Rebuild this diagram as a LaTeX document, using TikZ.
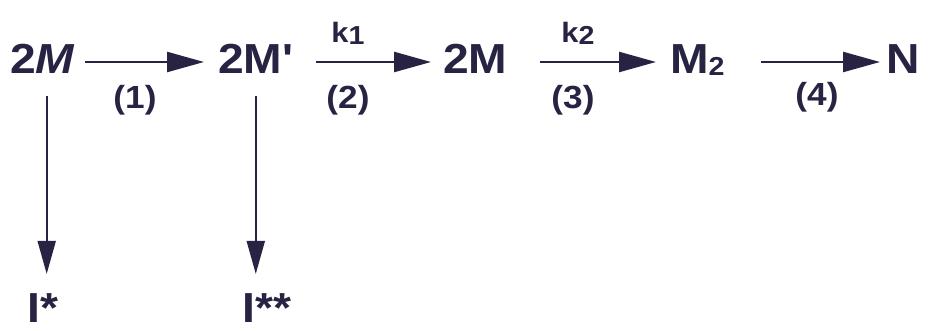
\documentclass[tikz,border=0pt]{standalone}
\usepackage{fontspec}
\setmainfont{Liberation Sans}[FakeStretch=1.1,Ligatures=TeXOff]
\usetikzlibrary{arrows.meta,positioning}
\definecolor{ink}{RGB}{38,36,66}
\newcommand{\lowidx}[1]{\raisebox{-1.5pt}{\fontsize{26}{28}\selectfont #1}}

\begin{document}
\begin{tikzpicture}[x=1pt,y=1pt,
  spc/.style={inner sep=0pt,anchor=base west,text=ink,
    font=\fontsize{42}{46}\selectfont\bfseries},
  lbl/.style={inner sep=0pt,text=ink,font=\fontsize{32}{34}\selectfont\bfseries},
  rate/.style={inner sep=0pt,anchor=base,text=ink,font=\fontsize{28}{30}\selectfont\bfseries},
  rx/.style={draw=ink,line width=2.4pt,-{Triangle[length=37pt,width=20pt]}},
  dx/.style={draw=ink,line width=2pt,-{Triangle[length=33pt,width=18pt]}}]
\useasboundingbox (0,0) rectangle (930,330);
% species along the main line
\node[spc] (s1) at (10,256) {2\textit{M}};
\node[spc] (s2) at (218,256) {2M'};
\node[spc] (s3) at (443,256) {2M};
\node[spc] (s4) at (670,256) {M\lowidx{2}};
\node[spc] (s5) at (886,256) {N};
% side products
\node[spc] (i1) at (27,8) {I*};
\node[spc] (i2) at (242,8) {I**};
% reaction arrows
\draw[rx] ([xshift=10pt,yshift=12pt]s1.base east) -- ([xshift=-14pt,yshift=12pt]s2.base west);
\draw[rx] ([xshift=22pt,yshift=12pt]s2.base east) -- ([xshift=-12pt,yshift=12pt]s3.base west);
\draw[rx] ([xshift=32pt,yshift=12pt]s3.base east) -- ([xshift=-14pt,yshift=12pt]s4.base west);
\draw[rx] ([xshift=36pt,yshift=12pt]s4.base east) -- ([xshift=-6pt,yshift=12pt]s5.base west);
\draw[dx,shorten <=22pt] ([xshift=4pt]s1.south) -- ([xshift=4pt,yshift=19pt]s1.south |- i1.north);
\draw[dx,shorten <=22pt] (s2.south) -- ([yshift=19pt]s2.south |- i2.north);
% step numbers and rate constants
\node[lbl] (n1) at (135,230) {(1)};
\node[lbl] (n2) at (348,230) {(2)};
\node[lbl] (n3) at (573,230) {(3)};
\node[lbl] (n4) at (817,233) {(4)};
\node[rate] (k1) at (348,287) {k\lowidx{1}};
\node[rate] (k2) at (578,287) {k\lowidx{2}};
\end{tikzpicture}
\end{document}
